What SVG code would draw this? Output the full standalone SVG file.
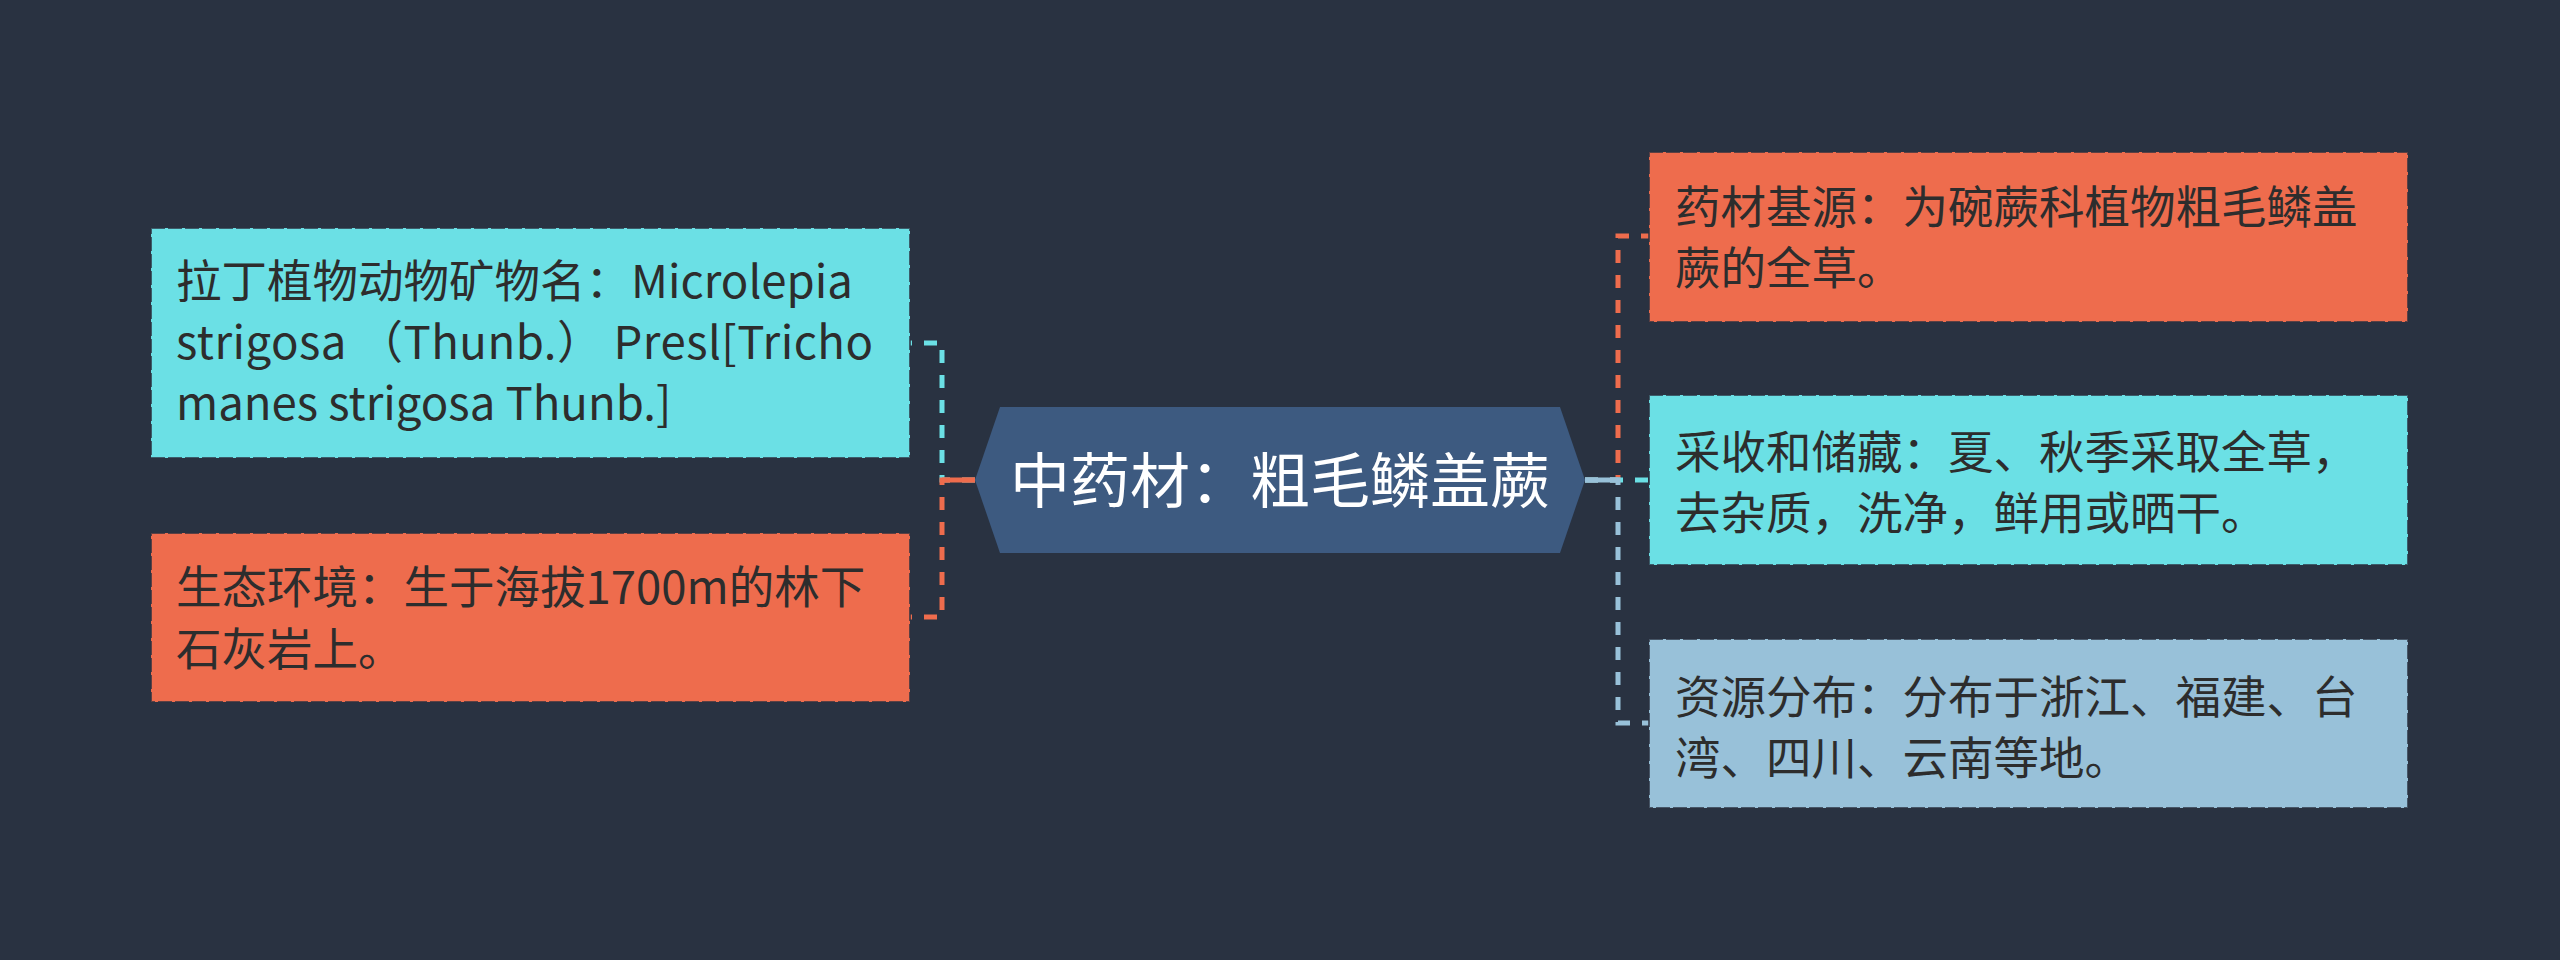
<svg xmlns="http://www.w3.org/2000/svg" width="2560" height="960" viewBox="0 0 2560 960">
<style>
.t{font-family:"Noto Sans CJK SC","Noto Sans",sans-serif;font-size:45.5px;fill:#2d2d2d}
.c{font-family:"Noto Sans CJK SC","Noto Sans",sans-serif;font-size:60px;fill:#ffffff}
.box{stroke:#2b3240;stroke-opacity:0.75;stroke-width:2;stroke-dasharray:14 3}
.ln{fill:none;stroke-width:5;stroke-dasharray:13 12}
.or{fill:#ee6c4d}.cy{fill:#6be0e5}.lb{fill:#98c1d9}
</style>
<rect width="2560" height="960" fill="#293241"/>
<g id="connectors">
<path class="ln" stroke="#6be0e5" d="M975,480 H942 V343 H910"/>
<path class="ln" stroke="#ee6c4d" d="M975,480 H942 V617 H910"/>
<line x1="942" y1="480" x2="975" y2="480" stroke="#ee6c4d" stroke-width="5"/>
<path class="ln" stroke="#ee6c4d" d="M1585,480 H1618 V236 H1649"/>
<path class="ln" stroke="#6be0e5" d="M1585,480 H1649"/>
<path class="ln" stroke="#98c1d9" d="M1585,480 H1618 V723 H1649"/>
<line x1="1585" y1="480" x2="1618" y2="480" stroke="#98c1d9" stroke-width="5"/>
</g>
<g id="center">
<polygon points="975,480 1000,407 1560,407 1585,480 1560,553 1000,553" fill="#3d5a80"/>
<text class="c" x="1280" y="503" text-anchor="middle">中药材：粗毛鳞盖蕨</text>
</g>
<g id="latin-name">
<rect class="box cy" x="151" y="228" width="759" height="230"/>
<text class="t" x="176" y="298">拉丁植物动物矿物名：Microlepia</text>
<text class="t" x="176" y="359" textLength="697" lengthAdjust="spacing">strigosa （Thunb.） Presl[Tricho</text>
<text class="t" x="176" y="420">manes strigosa Thunb.]</text>
</g>
<g id="habitat">
<rect class="box or" x="151" y="533" width="759" height="169"/>
<text class="t" x="176" y="604">生态环境：生于海拔1700m的林下</text>
<text class="t" x="176" y="666">石灰岩上。</text>
</g>
<g id="source">
<rect class="box or" x="1649" y="152" width="759" height="170"/>
<text class="t" x="1675" y="224">药材基源：为碗蕨科植物粗毛鳞盖</text>
<text class="t" x="1675" y="285">蕨的全草。</text>
</g>
<g id="harvest">
<rect class="box cy" x="1649" y="395" width="759" height="170"/>
<text class="t" x="1675" y="469">采收和储藏：夏、秋季采取全草，</text>
<text class="t" x="1675" y="530">去杂质，洗净，鲜用或晒干。</text>
</g>
<g id="distribution">
<rect class="box lb" x="1649" y="639" width="759" height="169"/>
<text class="t" x="1675" y="714">资源分布：分布于浙江、福建、台</text>
<text class="t" x="1675" y="775">湾、四川、云南等地。</text>
</g>
</svg>
